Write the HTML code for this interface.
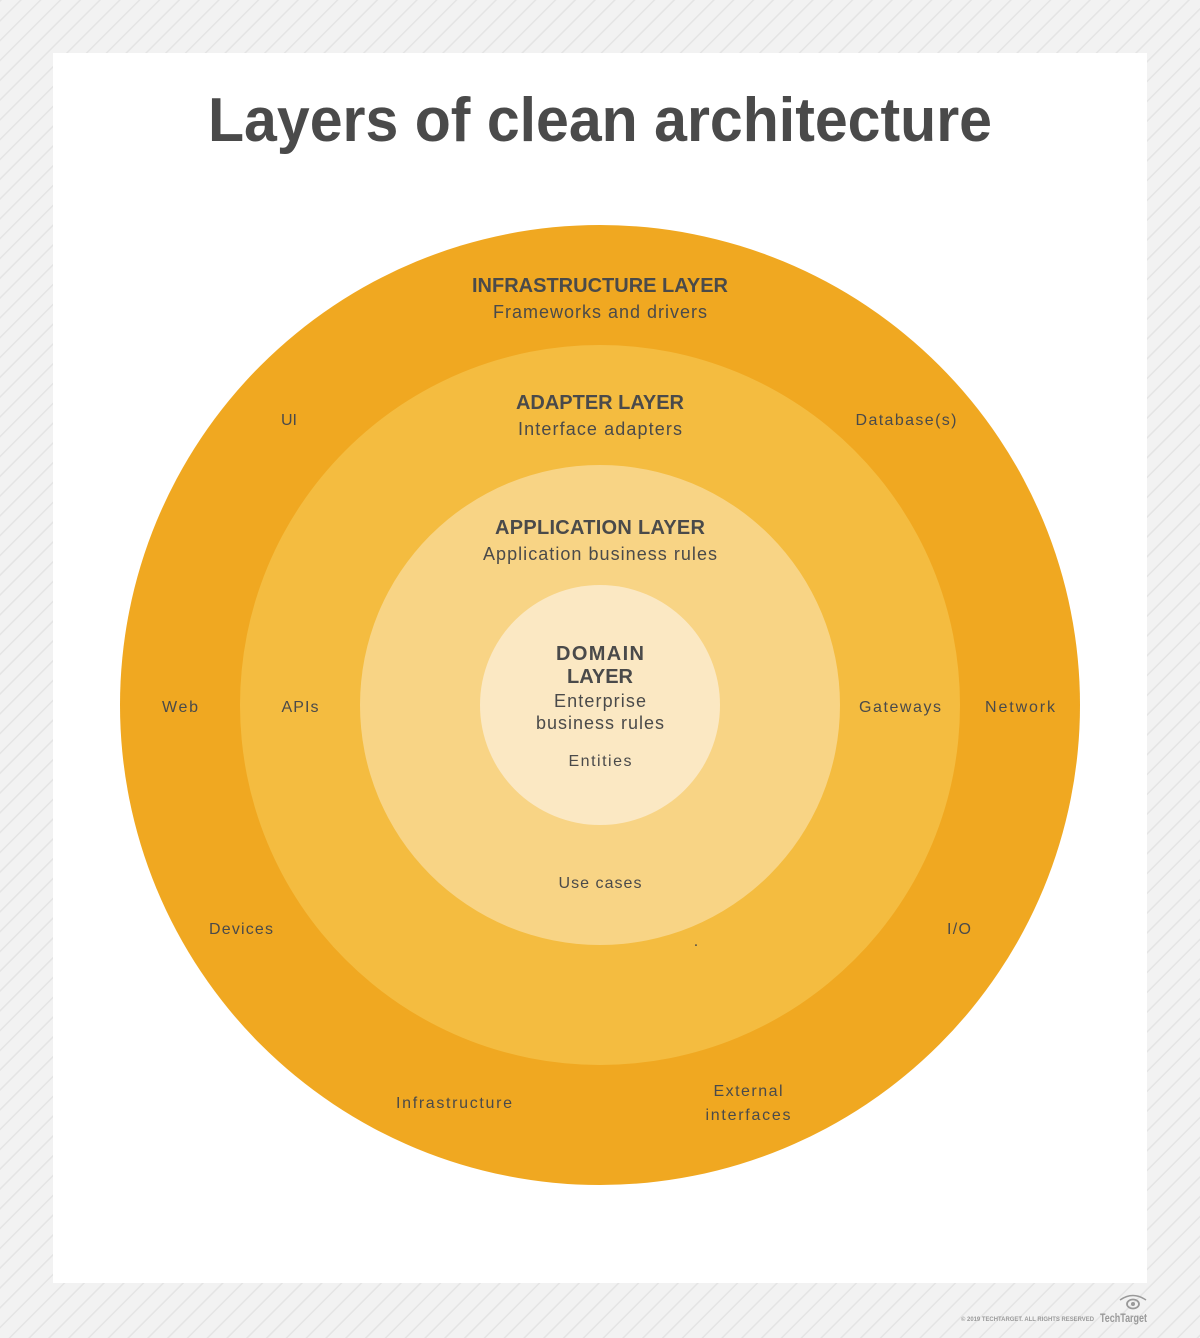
<!DOCTYPE html>
<html><head><meta charset="utf-8"><style>
html,body{margin:0;padding:0;width:1200px;height:1338px;overflow:hidden;}
svg{display:block;font-family:"Liberation Sans",sans-serif;}
</style></head><body>
<svg width="1200" height="1338" viewBox="0 0 1200 1338" xmlns="http://www.w3.org/2000/svg">
<defs>
<pattern id="hatch" width="14" height="14" patternUnits="userSpaceOnUse" patternTransform="rotate(45)">
<rect width="14" height="14" fill="#f2f2f2"/>
<line x1="0" y1="0" x2="0" y2="14" stroke="#e4e4e4" stroke-width="3"/>
</pattern>
</defs>
<rect width="1200" height="1338" fill="url(#hatch)"/>
<rect x="53" y="53" width="1094" height="1230" fill="#ffffff"/>
<text x="600" y="141" text-anchor="middle" font-size="62" font-weight="bold" fill="#4a4a4a" textLength="784" lengthAdjust="spacingAndGlyphs">Layers of clean architecture</text>
<circle cx="600" cy="705" r="480" fill="#f0a821"/>
<circle cx="600" cy="705" r="360" fill="#f4bc40"/>
<circle cx="600" cy="705" r="240" fill="#f8d485"/>
<circle cx="600" cy="705" r="120" fill="#fbe8c3"/>
<g fill="#4a4a4a" text-anchor="middle" lengthAdjust="spacingAndGlyphs">
<text x="600" y="292" font-size="20" font-weight="bold" textLength="256">INFRASTRUCTURE LAYER</text>
<text x="600" y="318" font-size="18" textLength="214">Frameworks and drivers</text>
<text x="600" y="409" font-size="20" font-weight="bold" textLength="168">ADAPTER LAYER</text>
<text x="600" y="435" font-size="18" textLength="164">Interface adapters</text>
<text x="600" y="534" font-size="20" font-weight="bold" textLength="210">APPLICATION LAYER</text>
<text x="600" y="560" font-size="18" textLength="234">Application business rules</text>
<text x="600" y="660" font-size="20" font-weight="bold" textLength="88">DOMAIN</text>
<text x="600" y="683" font-size="20" font-weight="bold" textLength="66">LAYER</text>
<text x="600" y="707" font-size="18" textLength="92">Enterprise</text>
<text x="600" y="729" font-size="18" textLength="128">business rules</text>
<g font-size="16">
<text x="600" y="766" textLength="63">Entities</text>
<text x="600" y="888" textLength="83">Use cases</text>
<text x="289" y="425" textLength="16">UI</text>
<text x="906" y="425" textLength="101">Database(s)</text>
<text x="180" y="712" textLength="36">Web</text>
<text x="300" y="712" textLength="37">APIs</text>
<text x="900" y="712" textLength="82">Gateways</text>
<text x="1020" y="712" textLength="70">Network</text>
<text x="241" y="934" textLength="64">Devices</text>
<text x="959" y="934" textLength="24">I/O</text>
<text x="454" y="1108" textLength="116">Infrastructure</text>
<text x="748" y="1096" textLength="69">External</text>
<text x="748" y="1120" textLength="85">interfaces</text>
<text x="696" y="946">.</text>
</g>
</g>
<text x="1094" y="1321" text-anchor="end" font-size="6" fill="#999" font-weight="bold" textLength="133" lengthAdjust="spacingAndGlyphs">© 2019 TECHTARGET. ALL RIGHTS RESERVED</text>
<text x="1100" y="1322" font-size="12" font-weight="bold" fill="#999" textLength="47" lengthAdjust="spacingAndGlyphs">TechTarget</text>
<ellipse cx="1133" cy="1304" rx="6" ry="4.5" fill="none" stroke="#999" stroke-width="1.8"/>
<circle cx="1133" cy="1304" r="2" fill="#999"/>
<path d="M1120 1300 Q1133 1291 1146 1300" fill="none" stroke="#999" stroke-width="1.5"/>
</svg>
</body></html>
